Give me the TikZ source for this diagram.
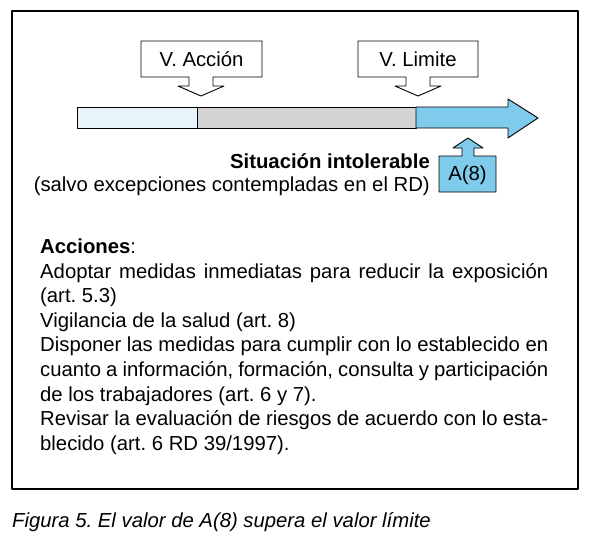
\documentclass[tikz,border=0pt]{standalone}
\usepackage{fontspec}
\setmainfont{Liberation Sans}
\usepackage{tikz}
\usetikzlibrary{arrows}
\definecolor{celeste}{RGB}{126,203,236}
\definecolor{celesteclaro}{RGB}{231,244,251}
\definecolor{grisbarra}{RGB}{212,212,212}
\frenchspacing

\begin{document}
\begin{tikzpicture}[line cap=round,line join=round,x=1pt,y=-1pt,
    marco/.style={line width=1.3pt},
    borde/.style={line width=0.9pt},
    texto/.style={inner sep=0pt,font=\fontsize{20.3}{24}\selectfont}]
        \useasboundingbox (0,0) rectangle (600,538);
        \draw [marco] (12,11) rectangle (578,489);
        \draw [borde,fill=celesteclaro] (77,107) rectangle (197,128);
        \draw [borde,fill=grisbarra] (197,107) rectangle (416,128);
        \draw [borde,fill=celeste] (416,107) -- (508,107) -- (508,99) -- (538,118) -- (508,138) -- (508,128) -- (416,128) -- cycle;
        \draw [borde,fill=white] (141,41) -- (262,41) -- (262,77) -- (213,77) -- (213,86) -- (224,86) -- (201,96) -- (178,86) -- (189,86) -- (189,77) -- (141,77) -- cycle;
        \draw [borde,fill=white] (358,41) -- (478,41) -- (478,77) -- (430,77) -- (430,86) -- (441,86) -- (418,96) -- (395,86) -- (406,86) -- (406,77) -- (358,77) -- cycle;
        \draw [borde,fill=celeste] (439,156) -- (462,156) -- (462,148) -- (453,148) -- (468,138) -- (483,148) -- (474,148) -- (474,156) -- (496,156) -- (496,192) -- (439,192) -- cycle;
        \draw (201.5,59) node[texto] (vaccion) {V. Acción};
        \draw (418,59) node[texto] (vlimite) {V. Limite};
        \draw (467.5,175) node[texto] (aocho) {A(8)};
        \draw (430,168) node[texto,anchor=base east] (intolerable) {\textbf{Situación intolerable}};
        \draw (430,191) node[texto,anchor=base east] (salvo) {(salvo excepciones contempladas en el RD)};
        \draw (40,253) node[texto,anchor=base west] (acciones) {\textbf{Acciones}:};
        \draw (40,278) node[texto,anchor=base west] (lineaA) {\makebox[508pt][s]{Adoptar medidas inmediatas para reducir la exposición}};
        \draw (40,302.6) node[texto,anchor=base west] (lineaB) {(art. 5.3)};
        \draw (40,327.2) node[texto,anchor=base west] (lineaC) {Vigilancia de la salud (art. 8)};
        \draw (40,351.8) node[texto,anchor=base west] (lineaD) {\makebox[508pt][s]{Disponer las medidas para cumplir con lo establecido en}};
        \draw (40,376.4) node[texto,anchor=base west] (lineaE) {\makebox[508pt][s]{cuanto a información, formación, consulta y participación}};
        \draw (40,401) node[texto,anchor=base west] (lineaF) {de los trabajadores (art. 6 y 7).};
        \draw (40,425.6) node[texto,anchor=base west] (lineaG) {\makebox[508pt][s]{Revisar la evaluación de riesgos de acuerdo con lo esta-}};
        \draw (40,450.2) node[texto,anchor=base west] (lineaH) {blecido (art. 6 RD 39/1997).};
        \draw (12,527) node[texto,anchor=base west] (figura) {\itshape Figura 5. El valor de A(8) supera el valor límite};
    \end{tikzpicture}
\end{document}
